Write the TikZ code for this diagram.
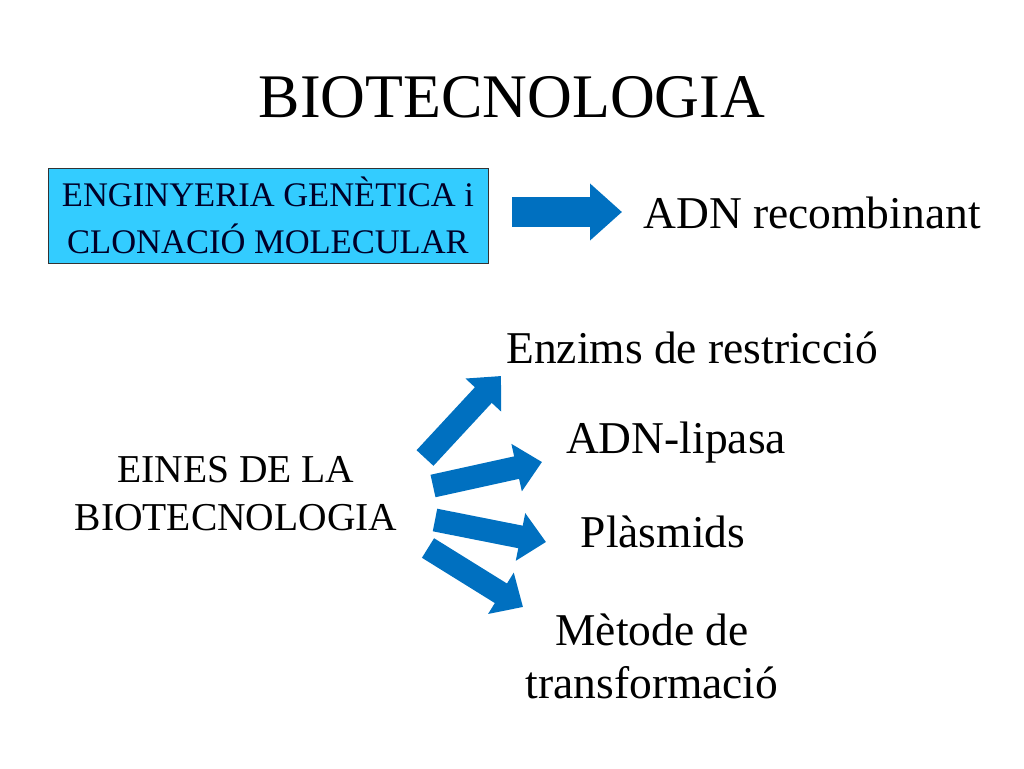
\documentclass[tikz,border=0pt]{standalone}
\usepackage{fontspec}
\setmainfont{Liberation Serif}
\usetikzlibrary{arrows.meta}
\definecolor{arrowblue}{RGB}{0,112,192}
\definecolor{boxcyan}{RGB}{51,204,255}
\definecolor{boxtext}{RGB}{0,0,40}
\tikzset{
  bigarrow/.style={draw=arrowblue, line width=23pt,
    -{Triangle[width=47pt,length=26pt,fill=arrowblue]}},
  toparrow/.style={draw=arrowblue, line width=30pt,
    -{Triangle[width=55pt,length=32pt,fill=arrowblue]}},
  itemtext/.style={font=\fontsize{45.5}{53}\selectfont, align=center, inner sep=0pt},
}
\begin{document}
\begin{tikzpicture}[x=1pt,y=-1pt]
				\useasboundingbox (0,0) rectangle (1024,768);
				
				\node (title) at (512,97) {\fontsize{62}{70}\selectfont BIOTECNOLOGIA};
				
				\node[draw=black!80, fill=boxcyan, minimum width=440pt, minimum height=95pt,
				  align=center, text=boxtext, font=\fontsize{34.5}{47}\selectfont] (eng) at (268,215.5)
				  {ENGINYERIA GENÈTICA i\\CLONACIÓ MOLECULAR};
				\node[itemtext] (adn) at (812,213) {ADN recombinant};
				\coordinate (t1) at (512,212);
				\coordinate (t2) at (622,212);
				\draw[toparrow] (t1) -- (t2);
				
				\node[align=center, font=\fontsize{39.5}{48}\selectfont] (eines) at (236,494)
				  {EINES DE LA\\BIOTECNOLOGIA};
				\node[itemtext] (enz) at (692,348) {Enzims de restricció};
				\node[itemtext] (lip) at (676,443) {ADN-lipasa};
				\node[itemtext] (pla) at (663,532) {Plàsmids};
				\node[itemtext] (met) at (652,656) {Mètode de\\transformació};
				
				\coordinate (a1) at (425,458);
				\coordinate (b1) at (501,376);
				\coordinate (a2) at (433,486);
				\coordinate (b2) at (542,462);
				\coordinate (a3) at (435,520);
				\coordinate (b3) at (546,542);
				\coordinate (a4) at (428,548);
				\coordinate (b4) at (523,607);
				\draw[bigarrow] (a1) -- (b1);
				\draw[bigarrow] (a2) -- (b2);
				\draw[bigarrow] (a3) -- (b3);
				\draw[bigarrow] (a4) -- (b4);
\end{tikzpicture}
\end{document}
